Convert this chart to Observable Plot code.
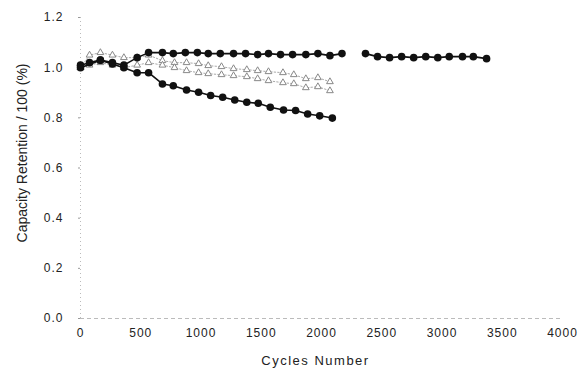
<!DOCTYPE html>
<html>
<head>
<meta charset="utf-8">
<script src="https://cdn.jsdelivr.net/npm/d3@7"></script>
<script src="https://cdn.jsdelivr.net/npm/@observablehq/plot@0.6"></script>
<style>
  html, body { margin: 0; padding: 0; background: #fff; }
  #chart svg { display: block; }
  #chart g[aria-label*="axis"] text { letter-spacing: 1px; }
  #chart .xtitle text { letter-spacing: 1.5px; }
</style>
</head>
<body>
<div id="chart"></div>
<script>
// Series A: bottom black line (filled circles)
const cyclesA = [0, 75, 165, 265, 360, 470, 565, 680, 770, 880, 980, 1080, 1180, 1280, 1380, 1475, 1575, 1685, 1785, 1885, 1985, 2090];
const retentionA = [1.01, 1.02, 1.03, 1.015, 1.0, 0.98, 0.98, 0.935, 0.928, 0.911, 0.902, 0.889, 0.882, 0.871, 0.862, 0.858, 0.842, 0.831, 0.829, 0.815, 0.808, 0.799];

// Series B: top black line (with a gap around 2270 cycles)
const cyclesB = [0, 165, 265, 360, 470, 565, 680, 770, 870, 970, 1060, 1160, 1270, 1370, 1470, 1560, 1660, 1760, 1870, 1970, 2070, 2170, 2270, 2365, 2465, 2565, 2665, 2765, 2865, 2965, 3060, 3170, 3260, 3370];
const retentionB = [1.0, 1.03, 1.02, 1.01, 1.04, 1.06, 1.06, 1.056, 1.06, 1.06, 1.056, 1.056, 1.056, 1.056, 1.052, 1.056, 1.052, 1.052, 1.052, 1.056, 1.048, 1.056, null, 1.056, 1.044, 1.04, 1.044, 1.04, 1.044, 1.04, 1.044, 1.044, 1.044, 1.036];

// Series C and D: grey dotted lines with open triangles
const cyclesCD = [0, 75, 165, 265, 360, 470, 565, 680, 780, 880, 980, 1060, 1170, 1270, 1380, 1470, 1560, 1680, 1770, 1870, 1970, 2070];
const retentionC = [1.0, 1.05, 1.06, 1.05, 1.04, 1.04, 1.05, 1.028, 1.02, 1.02, 1.016, 1.008, 1.004, 0.996, 0.992, 0.988, 0.984, 0.98, 0.972, 0.956, 0.96, 0.944];
const retentionD = [1.0, 1.01, 1.02, 1.01, 1.0, 1.01, 1.02, 1.01, 1.0, 0.988, 0.98, 0.976, 0.972, 0.968, 0.964, 0.956, 0.948, 0.94, 0.936, 0.92, 0.924, 0.908];

// Axis ticks and titles
const xTicks = [0, 500, 1000, 1500, 2000, 2500, 3000, 3500, 4000];
const yTicks = [0, 0.2, 0.4, 0.6, 0.8, 1.0, 1.2];
const xTitle = "Cycles Number";
const yTitle = "Capacity Retention / 100 (%)";

const toRows = (xs, ys) => xs.map((c, i) => ({cycle: c, value: ys[i]}));
const A = toRows(cyclesA, retentionA);
const B = toRows(cyclesB, retentionB);
const C = toRows(cyclesCD, retentionC);
const D = toRows(cyclesCD, retentionD);

const chart = Plot.plot({
  width: 585,
  height: 374,
  marginLeft: 80,
  marginRight: 23,
  marginTop: 17,
  marginBottom: 56,
  style: {fontFamily: "'Liberation Sans', Arial, sans-serif", background: "#fff", color: "#222"},
  x: {domain: [0, 4000]},
  y: {domain: [0, 1.2]},
  marks: [
    Plot.ruleY([0], {stroke: "#bbb", strokeDasharray: "4,3", strokeWidth: 1}),
    Plot.ruleX([0], {stroke: "#bbb", strokeDasharray: "1,3", strokeWidth: 1}),
    Plot.axisX({ticks: xTicks, tickSize: 0, tickPadding: 10, fontSize: 12, label: null, tickFormat: d3.format("d")}),
    Plot.axisY({ticks: yTicks, tickSize: 2, tickPadding: 15, fontSize: 12, label: null, stroke: "#999", tickFormat: d3.format(".1f")}),
    Plot.text([xTitle], {frameAnchor: "bottom", lineAnchor: "middle", dy: 42, dx: -6, fontSize: 13, fill: "#222", className: "xtitle"}),
    Plot.text([yTitle], {frameAnchor: "left", textAnchor: "middle", rotate: -90, lineAnchor: "middle", dx: -58, dy: -15, fontSize: 14, fill: "#222"}),
    // grey series
    Plot.line(C, {x: "cycle", y: "value", stroke: "#aaa", strokeWidth: 1, strokeDasharray: "1.5,2"}),
    Plot.dot(C, {x: "cycle", y: "value", symbol: "triangle", r: 2.5, stroke: "#888", fill: "#fff", strokeWidth: 1}),
    Plot.line(D, {x: "cycle", y: "value", stroke: "#aaa", strokeWidth: 1, strokeDasharray: "1.5,2"}),
    Plot.dot(D, {x: "cycle", y: "value", symbol: "triangle", r: 2.5, stroke: "#888", fill: "#fff", strokeWidth: 1}),
    // black series
    Plot.line(A, {x: "cycle", y: "value", stroke: "#111", strokeWidth: 1.6}),
    Plot.dot(A, {x: "cycle", y: "value", r: 3.8, fill: "#111"}),
    Plot.line(B, {x: "cycle", y: "value", stroke: "#111", strokeWidth: 1.6}),
    Plot.dot(B, {x: "cycle", y: "value", r: 3.8, fill: "#111"})
  ]
});
document.getElementById("chart").appendChild(chart);
</script>
</body>
</html>
